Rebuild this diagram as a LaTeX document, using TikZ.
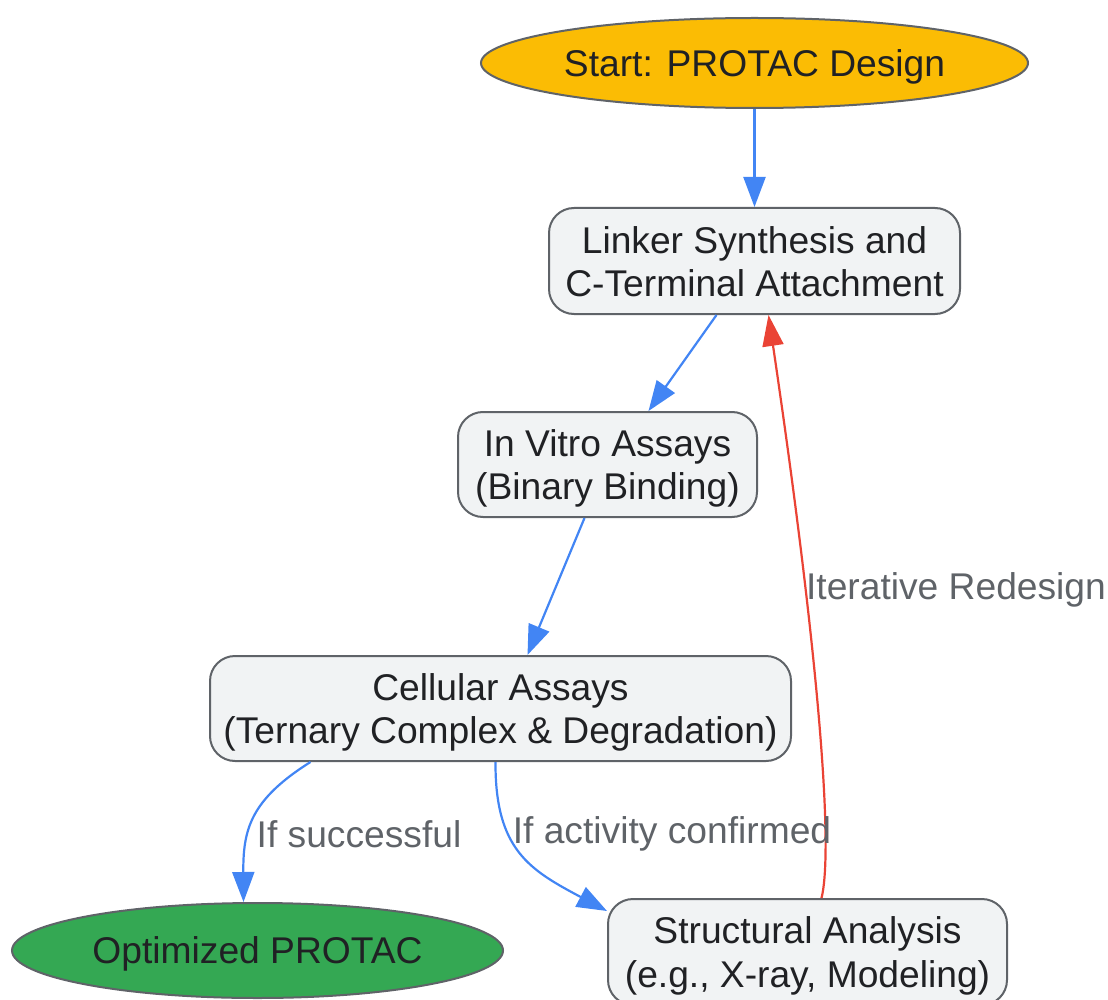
\documentclass[tikz,border=0pt]{standalone}
\usepackage{fontspec}
\setmainfont{Liberation Sans}
\usetikzlibrary{shapes.geometric,arrows.meta}

\definecolor{gline}{HTML}{5F6368}
\definecolor{gtext}{HTML}{202124}
\definecolor{gfill}{HTML}{F1F3F4}
\definecolor{gblue}{HTML}{4285F4}
\definecolor{gred}{HTML}{EA4335}
\definecolor{ggold}{HTML}{FBBC04}
\definecolor{ggreen}{HTML}{34A853}

% one line box of the node text
\newcommand{\linebox}{\rule[-7.2pt]{0pt}{41.7pt}}

\tikzset{
  stepbox/.style={draw=gline, line width=2pt, fill=gfill, rounded corners=25pt,
    align=center, text=gtext, inner sep=0pt, font=\fontsize{37.2}{41.7}\selectfont},
  endpoint/.style={ellipse, draw=gline, line width=2pt, text=gtext, inner sep=0pt,
    font=\fontsize{37.2}{41.7}\selectfont},
  flow/.style={gblue, line width=2.2pt, -{Triangle[length=30pt,width=22pt]}},
  loopback/.style={gred, line width=2.2pt, -{Triangle[length=31pt,width=21pt]}},
  edgelabel/.style={text=gline, font=\fontsize{37.2}{41.7}\selectfont}
}

\begin{document}
\begin{tikzpicture}[x=1pt,y=-1pt]
\useasboundingbox (0,0) rectangle (1108,1000);

\node[endpoint, fill=ggold, minimum width=547pt, minimum height=90pt] (start) at (754.5,63) {\linebox Start: PROTAC Design};
\node[stepbox, minimum width=411pt, minimum height=106pt] (linker) at (754.5,261) {\linebox Linker Synthesis and\\C-Terminal Attachment\linebox};
\node[stepbox, minimum width=299pt, minimum height=105pt] (invitro) at (607.5,464.5) {\linebox In Vitro Assays\\(Binary Binding)\linebox};
\node[stepbox, minimum width=581pt, minimum height=105pt] (cellular) at (500.5,708.5) {\linebox Cellular Assays\\(Ternary Complex \& Degradation)\linebox};
\node[endpoint, fill=ggreen, minimum width=491pt, minimum height=95pt] (optimized) at (257.5,950.5) {\linebox Optimized PROTAC};
\node[stepbox, minimum width=399pt, minimum height=106pt] (structural) at (807.5,952) {\linebox Structural Analysis\\(e.g., X-ray, Modeling)\linebox};

\draw[flow] (start.south) -- (linker.north);
\draw[flow] ([xshift=-38pt]linker.south) -- ([xshift=41pt]invitro.north);
\draw[flow] ([xshift=-23pt]invitro.south) -- ([xshift=27pt]cellular.north);
\draw[flow] ([xshift=-190pt]cellular.south) .. controls (250,800) and (243,830) .. ([xshift=-14pt]optimized.north);
\draw[flow] ([xshift=-5pt]cellular.south) .. controls (495,850) and (530,870) .. ([yshift=-13pt]structural.north west);
\draw[loopback] ([xshift=14pt]structural.north) .. controls (834,848) and (818,650) .. ([xshift=14pt]linker.south);

\node[edgelabel] (lsucc) at (359,834) {If successful};
\node[edgelabel] (lconf) at (672,834) {If activity confirmed};
\node[edgelabel] (lredo) at (956,590) {Iterative Redesign};
\end{tikzpicture}
\end{document}
